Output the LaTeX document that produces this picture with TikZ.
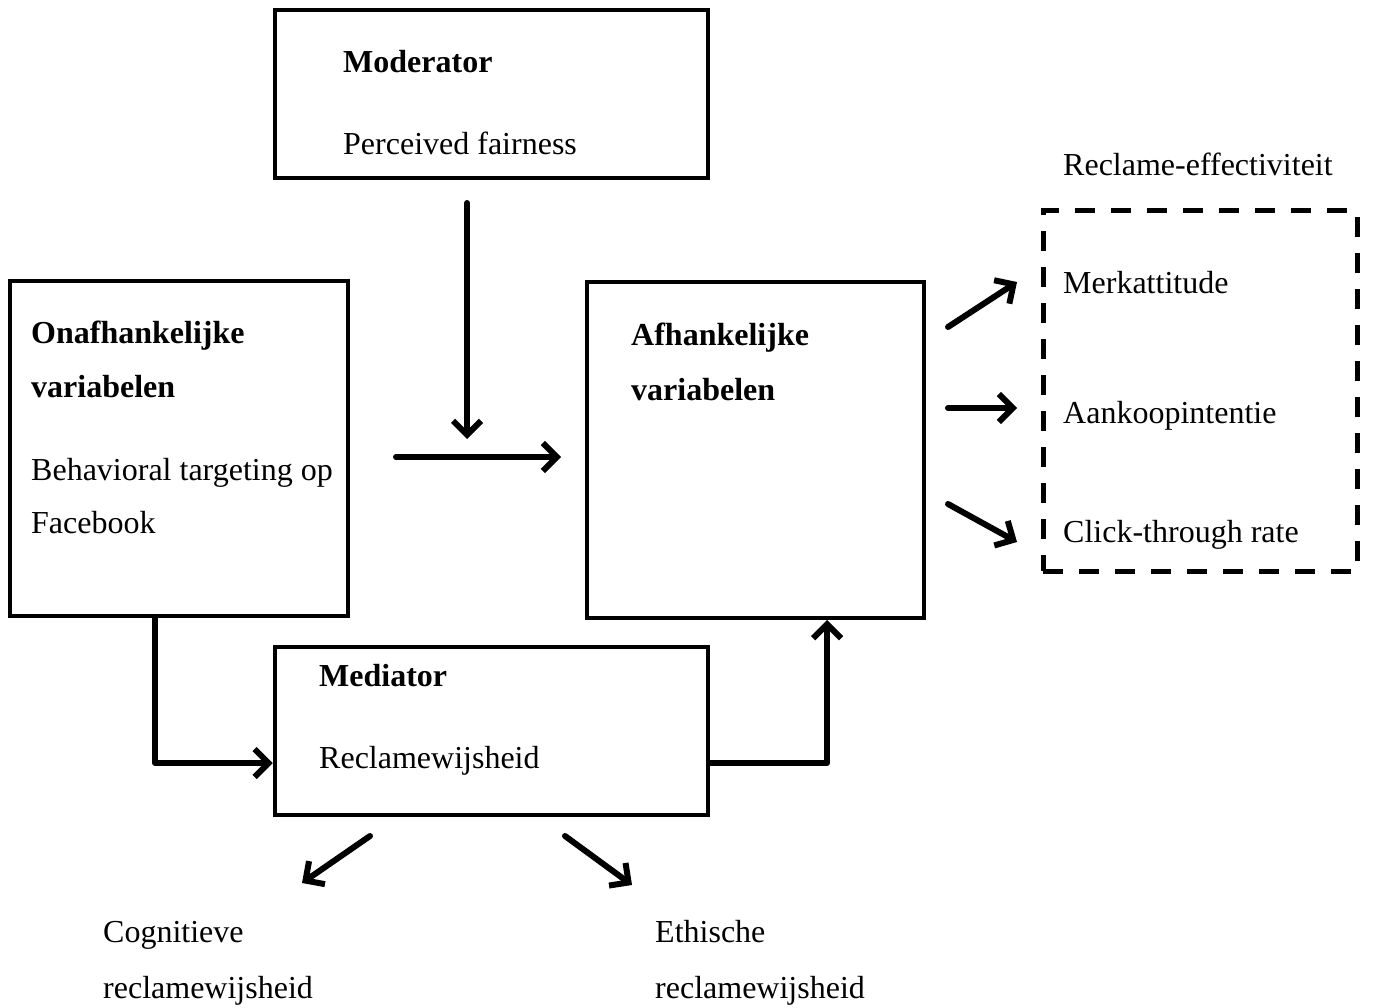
\documentclass[tikz,border=0pt]{standalone}
\usepackage{fontspec}
\setmainfont{Liberation Serif}
\usetikzlibrary{arrows.meta}
\begin{document}
\begin{tikzpicture}[x=1pt,y=-1pt,
  box/.style={draw, line width=4.5pt, inner sep=0pt},
  dbox/.style={draw, line width=5pt, inner sep=0pt, dash pattern=on 20pt off 16pt},
  txt/.style={anchor=base west, inner sep=0pt, font=\fontsize{32pt}{36pt}\selectfont},
  btxt/.style={txt, font=\fontsize{32pt}{36pt}\selectfont\bfseries},
  arr/.style={line width=6pt, line cap=round, line join=round, -{Straight Barb[length=14pt,width=28pt,line width=6pt]}}
]
\useasboundingbox (0,0) rectangle (1373,1008);
% boxes
\node[box, minimum width=433pt, minimum height=168pt] (mod) at (491.5,94) {};
\node[box, minimum width=338pt, minimum height=335pt] (onaf) at (179,448.5) {};
\node[box, minimum width=337pt, minimum height=336pt] (afh) at (755.5,450) {};
\node[box, minimum width=433pt, minimum height=168pt] (med) at (491.5,731) {};
\node[dbox, minimum width=314pt, minimum height=360pt] (eff) at (1200,391) {};
% texts
\node[btxt] (t1) at (343,73) {Moderator};
\node[txt] (t2) at (343,155) {Perceived fairness};
\node[btxt] (t3) at (31,343) {Onafhankelijke};
\node[btxt] (t4) at (31,397) {variabelen};
\node[txt] (t5) at (31,480) {Behavioral targeting op};
\node[txt] (t6) at (31,533) {Facebook};
\node[btxt] (t7) at (631,345) {Afhankelijke};
\node[btxt] (t8) at (631,400) {variabelen};
\node[btxt] (t9) at (319,686) {Mediator};
\node[txt] (t10) at (319,768) {Reclamewijsheid};
\node[txt] (t11) at (1063,176) {Reclame-effectiviteit};
\node[txt] (t12) at (1063,294) {Merkattitude};
\node[txt] (t13) at (1063,423) {Aankoopintentie};
\node[txt] (t14) at (1063,542) {Click-through rate};
\node[txt] (t15) at (103,942) {Cognitieve};
\node[txt] (t16) at (103,998) {reclamewijsheid};
\node[txt] (t17) at (655,942) {Ethische};
\node[txt] (t18) at (655,998) {reclamewijsheid};
% coordinates
\coordinate (v1) at (467,203);
\coordinate (v2) at (467,439);
\coordinate (h1) at (396,457);
\coordinate (h2) at (561,457);
\coordinate (r1a) at (948,327);
\coordinate (r1b) at (1017,282);
\coordinate (r2a) at (948,408);
\coordinate (r2b) at (1017,408);
\coordinate (r3a) at (948,504);
\coordinate (r3b) at (1017,542);
\coordinate (d1a) at (370,836);
\coordinate (d1b) at (302,883);
\coordinate (d2a) at (565,836);
\coordinate (d2b) at (632,885);
% arrows
\draw[arr] (v1) -- (v2);
\draw[arr] (h1) -- (h2);
\draw[arr] (onaf.south -| 155,0) |- (med.west |- 0,763);
\draw[arr] (med.east |- 0,763) -| (827,620);
\draw[arr] (r1a) -- (r1b);
\draw[arr] (r2a) -- (r2b);
\draw[arr] (r3a) -- (r3b);
\draw[arr] (d1a) -- (d1b);
\draw[arr] (d2a) -- (d2b);
\end{tikzpicture}
\end{document}
